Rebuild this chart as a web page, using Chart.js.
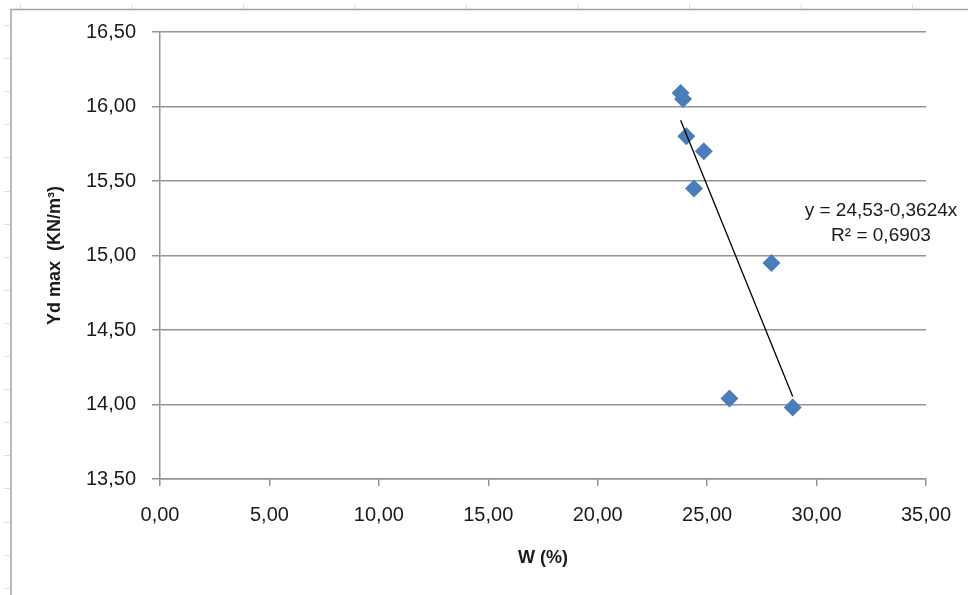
<!DOCTYPE html>
<html>
<head>
<meta charset="utf-8">
<script src="https://cdn.jsdelivr.net/npm/chart.js@4"></script>
<style>
  html, body { margin: 0; padding: 0; background: #ffffff; }
  #wrap { width: 968px; height: 595px; }
</style>
</head>
<body>
<div id="wrap"><canvas id="c" width="968" height="595"></canvas></div>
<script>
// ---- data ----
const wValues = [23.79, 23.90, 24.05, 24.85, 24.40, 27.94, 26.02, 28.91];
const gammaValues = [16.09, 16.05, 15.80, 15.70, 15.45, 14.95, 14.04, 13.98];
const trendCoefficients = [24.53, -0.3624]; // intercept, slope (from the displayed equation)
const trendLabels = ['y = 24,53-0,3624x', 'R² = 0,6903'];
const xTickLabels = ['0,00', '5,00', '10,00', '15,00', '20,00', '25,00', '30,00', '35,00'];
const yTickLabels = ['13,50', '14,00', '14,50', '15,00', '15,50', '16,00', '16,50'];
const xTitle = 'W (%)';
const yTitle = 'Yd max  (KN/m³)';

const points = wValues.map((w, i) => ({ x: w, y: gammaValues[i] }));
const xMin = Math.min(...wValues), xMax = Math.max(...wValues);
const trendPoints = [xMin, xMax].map(x => ({ x: x, y: trendCoefficients[0] + trendCoefficients[1] * x }));

const gridColor = '#949494';
const textColor = '#1a1a1a';
const FONT = "'Liberation Sans', Arial, sans-serif";

const decoPlugin = {
  id: 'deco',
  beforeDraw(chart) {
    const ctx = chart.ctx;
    ctx.save();
    ctx.fillStyle = '#ffffff';
    ctx.fillRect(0, 0, chart.width, chart.height);
    // faint sheet ruler marks
    ctx.strokeStyle = '#d6deee';
    ctx.lineWidth = 1;
    for (let x = 20; x < chart.width; x += 111.5) {
      ctx.beginPath(); ctx.moveTo(x + 0.5, 4); ctx.lineTo(x + 0.5, 9); ctx.stroke();
    }
    for (let y = 25; y < chart.height; y += 33.1) {
      ctx.beginPath(); ctx.moveTo(4, Math.round(y) + 0.5); ctx.lineTo(10, Math.round(y) + 0.5); ctx.stroke();
    }
    // chart frame
    ctx.strokeStyle = '#a3a3a3';
    ctx.lineWidth = 1.5;
    ctx.beginPath();
    ctx.moveTo(11, chart.height);
    ctx.lineTo(11, 9.5);
    ctx.lineTo(chart.width, 9.5);
    ctx.stroke();
    ctx.restore();
  },
  afterDraw(chart) {
    const ctx = chart.ctx;
    ctx.save();
    ctx.fillStyle = textColor;
    ctx.font = '19px ' + FONT;
    ctx.textAlign = 'center';
    ctx.textBaseline = 'middle';
    ctx.fillText(trendLabels[0], 881, 211);
    ctx.fillText(trendLabels[1], 881, 236);
    ctx.restore();
  }
};

new Chart(document.getElementById('c'), {
  type: 'scatter',
  data: {
    datasets: [
      {
        label: 'trend',
        data: trendPoints,
        showLine: true,
        borderColor: '#000000',
        borderWidth: 1.3,
        pointRadius: 0,
        pointHoverRadius: 0,
        order: 0
      },
      {
        label: 'data',
        data: points,
        pointStyle: 'rectRot',
        pointRadius: 9,
        pointHoverRadius: 9,
        backgroundColor: '#4a7ebb',
        borderColor: '#4a7ebb',
        borderWidth: 0,
        order: 1
      }
    ]
  },
  options: {
    responsive: false,
    animation: false,
    devicePixelRatio: 1,
    layout: { padding: { left: 0, right: 40, top: 32, bottom: 0 } },
    plugins: { legend: { display: false }, tooltip: { enabled: false } },
    scales: {
      x: {
        type: 'linear',
        min: 0, max: 35,
        ticks: {
          stepSize: 5,
          color: textColor,
          font: { family: FONT, size: 20 },
          padding: 17,
          maxRotation: 0,
          callback: (v, i) => xTickLabels[i]
        },
        grid: { drawOnChartArea: false, drawTicks: true, tickLength: 7, color: gridColor, lineWidth: 1.5 },
        border: { display: true, color: gridColor, width: 1.5 },
        title: { display: true, text: xTitle, color: textColor, font: { family: FONT, size: 18, weight: 'bold' }, padding: { top: 0, bottom: 26 } },
        afterFit: (s) => { s.height = 116; }
      },
      y: {
        type: 'linear',
        min: 13.5, max: 16.5,
        ticks: {
          stepSize: 0.5,
          color: textColor,
          font: { family: FONT, size: 20 },
          padding: 16,
          callback: (v, i) => yTickLabels[i]
        },
        grid: { drawOnChartArea: true, drawTicks: true, tickLength: 8, color: gridColor, lineWidth: 1.5 },
        border: { display: true, color: gridColor, width: 1.5 },
        title: { display: true, text: yTitle, color: textColor, font: { family: FONT, size: 18, weight: 'bold' }, padding: { top: 44, bottom: 0 } },
        afterFit: (s) => { s.width = 160; }
      }
    }
  },
  plugins: [decoPlugin]
});
</script>
</body>
</html>
